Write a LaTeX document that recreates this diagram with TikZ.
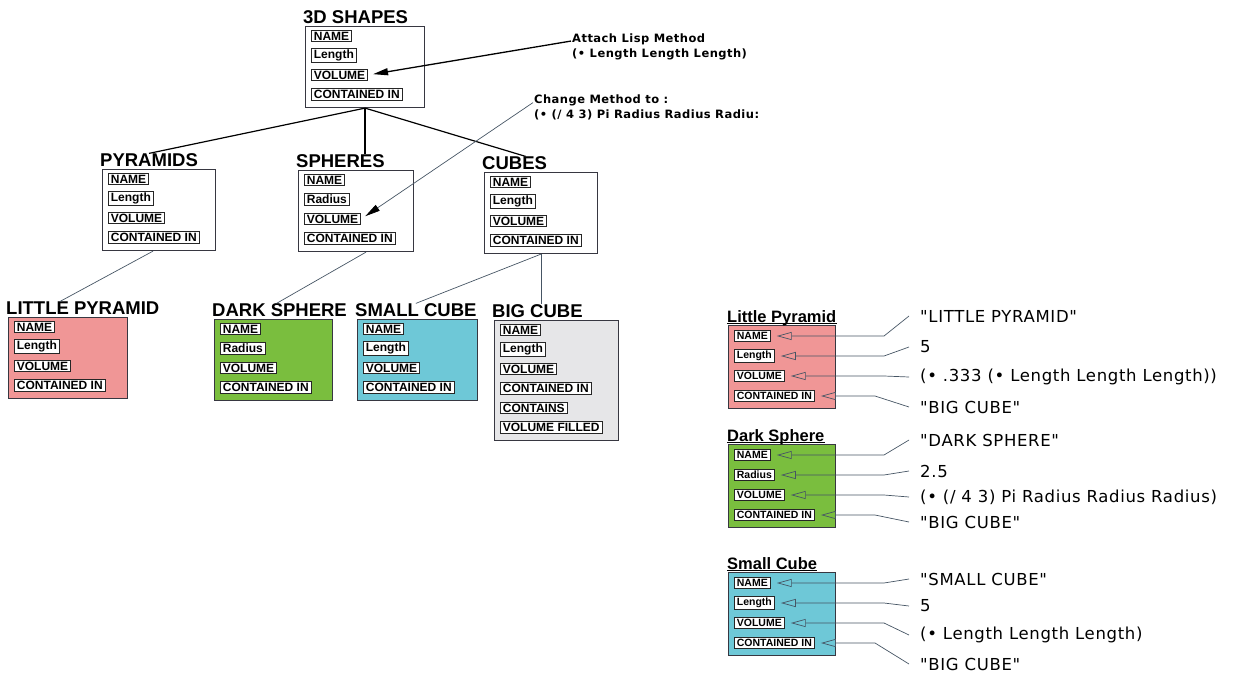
\documentclass[tikz,border=0pt]{standalone}
\usepackage{fontspec}
\setmainfont{Liberation Sans}
\newfontfamily\cadfont[LetterSpace=4]{DejaVu Sans}
\usetikzlibrary{arrows.meta}

\definecolor{framegray}{RGB}{55,55,65}
\definecolor{linkgray}{RGB}{70,85,100}
\definecolor{pyrpink}{RGB}{240,150,150}
\definecolor{sphgreen}{RGB}{122,190,62}
\definecolor{cubcyan}{RGB}{110,200,215}
\definecolor{bigcube}{RGB}{230,230,232}

\tikzset{
  frame/.style={draw=framegray, line width=1.1pt, inner sep=0pt},
  ttl/.style={font=\bfseries\fontsize{18.5}{18.5}\selectfont, inner sep=0pt},
  rttl/.style={font=\bfseries\fontsize{16.5}{16.5}\selectfont, inner sep=0pt},
  slot/.style={draw=black!85, line width=0.8pt, fill=white, inner xsep=2.5pt,
    inner ysep=1.5pt, font=\bfseries\fontsize{12}{12}\selectfont},
  rslot/.style={slot, font=\bfseries\fontsize{10.5}{10.5}\selectfont},
  note/.style={font=\cadfont\bfseries\fontsize{11.5}{14.5}\selectfont, align=left, inner sep=1pt},
  val/.style={font=\cadfont\fontsize{16.5}{16.5}\selectfont, inner xsep=11pt, inner ysep=1pt},
  tree/.style={draw=black, line width=1.2pt},
  twig/.style={draw=linkgray, line width=0.7pt},
  callout/.style={-{Triangle[length=15pt,width=7pt,color=black]}, shorten >=5pt},
  ptr/.style={draw=linkgray, line width=0.7pt, -{Triangle[open,length=15pt,width=8pt]}, shorten >=6pt}
}

\begin{document}
\begin{tikzpicture}[x=1pt,y=-1pt]
\useasboundingbox (0,0) rectangle (1252,691);

% frames of the hierarchy
\foreach \id/\x/\y/\w/\col/\n/\ttl/\slots in {
  shapes/305/26/119/white/4/3D SHAPES/{NAME,Length,VOLUME,CONTAINED IN},
  pyr/102/169/113/white/4/PYRAMIDS/{NAME,Length,VOLUME,CONTAINED IN},
  sph/298/170/115/white/4/SPHERES/{NAME,Radius,VOLUME,CONTAINED IN},
  cub/484/172/113/white/4/CUBES/{NAME,Length,VOLUME,CONTAINED IN},
  lpyr/8/317/119/pyrpink/4/LITTLE PYRAMID/{NAME,Length,VOLUME,CONTAINED IN},
  dsph/214/319/118/sphgreen/4/DARK SPHERE/{NAME,Radius,VOLUME,CONTAINED IN},
  scub/357/319/120/cubcyan/4/SMALL CUBE/{NAME,Length,VOLUME,CONTAINED IN},
  bcub/494/320/124/bigcube/6/BIG CUBE/{NAME,Length,VOLUME,CONTAINED IN,CONTAINS,VOLUME FILLED}}
{
  \node[frame, fill=\col, anchor=north west, minimum width=\w, minimum height=3+19.5*\n] (\id) at (\x,\y) {};
  \node[ttl, anchor=base west] (\id-t) at ([shift={(-2pt,2.5pt)}]\id.north west) {\ttl};
  \foreach \s [count=\i from 0] in \slots
    \node[slot, anchor=west] (\id-\i) at ([shift={(6pt,-10pt-19.5pt*\i)}]\id.north west) {\s};
}

% links between frames
\draw[tree] (shapes.south) -- (pyr-t.north);
\draw[tree] (shapes.south) -- (shapes.south |- sph-t.north);
\draw[tree] (shapes.south) -- ([xshift=11pt]cub-t.north);
\draw[twig] ([xshift=-6pt]pyr.south) -- ([xshift=-23pt]lpyr-t.north);
\draw[twig] ([xshift=10pt]sph.south) -- ([xshift=-3pt]dsph-t.north);
\draw[twig] (cub.south) -- (scub-t.north);
\draw[twig] (cub.south) -- (cub.south |- bcub-t.north);

% methods
\node[note, anchor=north west] (attach) at (571,33) {Attach Lisp Method\\(• Length Length Length)};
\node[note, anchor=north west] (change) at (533,94) {Change Method to :\\(• (/ 4 3) Pi Radius Radius Radiu:};
\draw[callout, draw=black, line width=1.3pt] ([yshift=6pt]attach.west) -- (shapes-2.east);
\draw[callout, draw=linkgray, line width=0.7pt] ([yshift=5pt]change.west) -- (sph-2.east);

% instance frames with values
\foreach \id/\y/\col/\ttl/\slots in {
  rlpyr/325/pyrpink/Little Pyramid/{NAME,Length,VOLUME,CONTAINED IN},
  rdsph/444/sphgreen/Dark Sphere/{NAME,Radius,VOLUME,CONTAINED IN},
  rscub/572/cubcyan/Small Cube/{NAME,Length,VOLUME,CONTAINED IN}}
{
  \node[frame, fill=\col, anchor=north west, minimum width=107, minimum height=83] (\id) at (728,\y) {};
  \node[rttl, anchor=base west] (\id-t) at ([shift={(-1pt,3pt)}]\id.north west) {\ttl};
  \draw[line width=0.6pt] ([yshift=-1.5pt]\id-t.base west) -- ([yshift=-1.5pt]\id-t.base east);
  \foreach \s [count=\i from 0] in \slots
    \node[rslot, anchor=west] (\id-\i) at ([shift={(6pt,-11pt-20pt*\i)}]\id.north west) {\s};
}

\foreach \id/\i/\y/\txt in {
  rlpyr/0/316/"LITTLE PYRAMID", rlpyr/1/347/5,
  rlpyr/2/377/{(• .333 (• Length Length Length))}, rlpyr/3/407/"BIG CUBE",
  rdsph/0/440/"DARK SPHERE", rdsph/1/471/2.5,
  rdsph/2/497/{(• (/ 4 3) Pi Radius Radius Radius)}, rdsph/3/522/"BIG CUBE",
  rscub/0/579/"SMALL CUBE", rscub/1/606/5,
  rscub/2/635/{(• Length Length Length)}, rscub/3/664/"BIG CUBE"}
  \node[val, anchor=west] (\id-v\i) at (909,\y) {\txt};

\foreach \id in {rlpyr,rdsph,rscub}
  \foreach \i/\b in {0/25,1/25,2/25,3/34}
    \draw[ptr] (\id-v\i.west) -- ([xshift=-\b]\id-v\i.west |- \id-\i.east) -- (\id-\i.east);
\end{tikzpicture}
\end{document}
